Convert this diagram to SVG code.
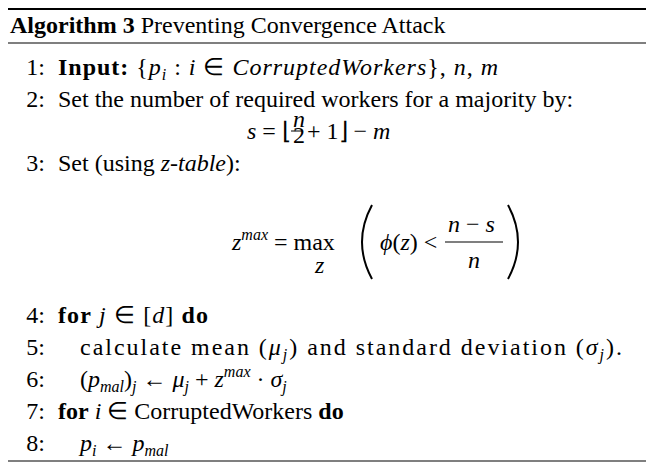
<svg xmlns="http://www.w3.org/2000/svg" width="655" height="476" viewBox="0 0 655 476">
<style>
text{font-family:"Liberation Serif","Times New Roman",serif;font-size:24px;fill:#000}
.b{font-weight:bold}
.i{font-style:italic}
.n{text-anchor:end}
.p{fill:none;stroke:#000;stroke-width:2}
</style>
<rect width="655" height="476" fill="#fff"/>
<line x1="8" y1="9" x2="646" y2="9" stroke="#000" stroke-width="2"/>
<line x1="8" y1="43" x2="646" y2="43" stroke="#000" stroke-width="1.2"/>
<line x1="8" y1="461" x2="646" y2="461" stroke="#000" stroke-width="1.2"/>
<text x="10" y="33"><tspan class="b">Algorithm 3</tspan> Preventing Convergence Attack</text>
<text class="n" x="45" y="75">1:</text>
<text x="58" y="75" textLength="440" lengthAdjust="spacing"><tspan class="b">Input:</tspan> {<tspan class="i">p</tspan><tspan font-size="16" dy="5" class="i">i</tspan><tspan dy="-5"> : </tspan><tspan class="i">i</tspan> ∈ <tspan class="i">CorruptedWorkers</tspan>}, <tspan class="i">n</tspan>, <tspan class="i">m</tspan></text>
<text class="n" x="45" y="107">2:</text>
<text x="58" y="107">Set the number of required workers for a majority by:</text>
<text x="247" y="139"><tspan class="i">s</tspan> = ⌊</text>
<text x="293" y="127" font-size="13" class="i">n</text>
<line x1="291" y1="131" x2="302" y2="131" stroke="#000" stroke-width="1"/>
<text x="293" y="143" font-size="13">2</text>
<text x="307" y="139">+ 1⌋ − <tspan class="i">m</tspan></text>
<text class="n" x="45" y="171">3:</text>
<text x="58" y="171">Set (using <tspan class="i">z-table</tspan>):</text>
<text x="232" y="250"><tspan class="i">z</tspan><tspan font-size="16" dy="-10" class="i">max</tspan><tspan dy="10"> = max</tspan></text>
<text x="315" y="273" font-size="16" class="i">z</text>
<path class="p" d="M372 205 Q352 242 372 279"/>
<text x="380" y="250"><tspan class="i">ϕ</tspan>(<tspan class="i">z</tspan>) &lt;</text>
<text x="448" y="232"><tspan class="i">n</tspan> − <tspan class="i">s</tspan></text>
<line x1="445" y1="242" x2="503" y2="242" stroke="#000" stroke-width="1.2"/>
<text x="468" y="268" class="i">n</text>
<path class="p" d="M508 205 Q528 242 508 279"/>
<text class="n" x="45" y="323">4:</text>
<text x="58" y="323" textLength="150" lengthAdjust="spacing"><tspan class="b">for</tspan> <tspan class="i">j</tspan> ∈ [<tspan class="i">d</tspan>] <tspan class="b">do</tspan></text>
<text class="n" x="45" y="355">5:</text>
<text x="80" y="355" textLength="542" lengthAdjust="spacing">calculate mean (<tspan class="i">μ</tspan><tspan font-size="16" dy="5" class="i">j</tspan><tspan dy="-5">) and standard deviation (</tspan><tspan class="i">σ</tspan><tspan font-size="16" dy="5" class="i">j</tspan><tspan dy="-5">).</tspan></text>
<text class="n" x="45" y="387">6:</text>
<text x="80" y="387">(<tspan class="i">p</tspan><tspan font-size="16" dy="5" class="i">mal</tspan><tspan dy="-5">)</tspan><tspan font-size="16" dy="5" class="i">j</tspan><tspan dy="-5">  ←  </tspan><tspan class="i">μ</tspan><tspan font-size="16" dy="5" class="i">j</tspan><tspan dy="-5"> + </tspan><tspan class="i">z</tspan><tspan font-size="16" dy="-10" class="i">max</tspan><tspan dy="10"> · </tspan><tspan class="i">σ</tspan><tspan font-size="16" dy="5" class="i">j</tspan></text>
<text class="n" x="45" y="419">7:</text>
<text x="58" y="419"><tspan class="b">for</tspan> <tspan class="i">i</tspan> ∈ CorruptedWorkers <tspan class="b">do</tspan></text>
<text class="n" x="45" y="451">8:</text>
<text x="80" y="451"><tspan class="i">p</tspan><tspan font-size="16" dy="5" class="i">i</tspan><tspan dy="-5"> ← </tspan><tspan class="i">p</tspan><tspan font-size="16" dy="5" class="i">mal</tspan></text>
</svg>
